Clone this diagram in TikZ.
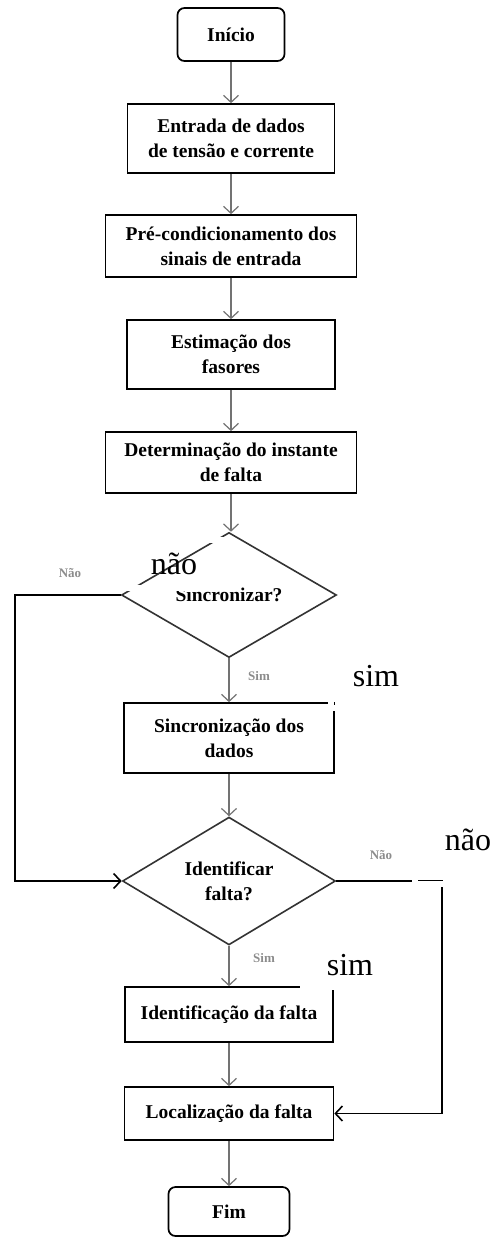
\documentclass[tikz,border=0pt]{standalone}
\usepackage{fontspec}
\setmainfont{Liberation Serif}
\usepackage{tikz}
\usetikzlibrary{positioning,shapes.geometric,arrows.meta}

\begin{document}
\begin{tikzpicture}[x=1pt, y=-1pt,
                % Estilos das caixas
                procbox/.style={rectangle, draw=black, line width=1.7pt, fill=white, align=center, font=\bfseries\fontsize{19.5}{25}\selectfont, inner sep=2pt},
                termbox/.style={procbox, rounded corners=7pt},
                decision/.style={diamond, draw=black!80, line width=1.6pt, fill=white, align=center, font=\bfseries\fontsize{19.5}{25}\selectfont, inner sep=0pt, minimum width=215pt, minimum height=125pt},
                % Estilos das ligacoes
                flowline/.style={draw=black!55, line width=1.2pt, -{Straight Barb[length=7pt, width=15pt]}},
                loopline/.style={draw=black, line width=1.6pt},
                % Estilos dos rotulos
                smalltag/.style={text=black!45, font=\bfseries\fontsize{13}{13}\selectfont, inner sep=0pt},
                bigtag/.style={draw=white, line width=6pt, font=\fontsize{32}{32}\selectfont, inner sep=0pt}
            ]
                \useasboundingbox (0,0) rectangle (492,1238);

                % --- CAIXAS ---
                \node[termbox, minimum width=107pt, minimum height=53pt] (inicio) at (231, 34.5) {Início};
                \node[procbox, minimum width=207pt, minimum height=69pt] (entrada) at (231, 138.5) {Entrada de dados\\de tensão e corrente};
                \node[procbox, minimum width=251pt, minimum height=62pt] (precond) at (231, 246) {Pré-condicionamento dos\\sinais de entrada};
                \node[procbox, minimum width=208pt, minimum height=69pt] (estimacao) at (231, 354.5) {Estimação dos\\fasores};
                \node[procbox, minimum width=251pt, minimum height=61pt] (instante) at (231, 462.5) {Determinação do instante\\de falta};

                \node[decision] (sincq) at (229, 595) {Sincronizar?};
                \node[procbox, minimum width=210pt, minimum height=70pt] (sincdados) at (229, 738) {Sincronização dos\\dados};
                \node[decision, minimum width=213pt, minimum height=126pt] (identq) at (229, 881) {Identificar\\falta?};

                \node[procbox, minimum width=208pt, minimum height=55pt] (identfalta) at (229, 1014.5) {Identificação da falta};
                \node[procbox, minimum width=209pt, minimum height=53pt] (localiza) at (229, 1113.5) {Localização da falta};
                \node[termbox, minimum width=121pt, minimum height=49pt] (fim) at (229, 1211.5) {Fim};

                \coordinate (loopL) at (15, 595);
                \coordinate (loopR) at (442, 881);

                % --- LIGACOES ---
                \draw[flowline] (inicio) -- (entrada);
                \draw[flowline] (entrada) -- (precond);
                \draw[flowline] (precond) -- (estimacao);
                \draw[flowline] (estimacao) -- (instante);
                \draw[flowline] (instante.south) -- (instante.south |- sincq.north);
                \draw[flowline] (sincq) -- (sincdados);
                \draw[flowline] (sincdados) -- (identq);
                \draw[flowline] (identq) -- (identfalta);
                \draw[flowline] (identfalta) -- (localiza);
                \draw[flowline] (localiza) -- (fim);

                % Desvios (nao)
                \draw[loopline, -{Straight Barb[length=7pt, width=15pt]}] (sincq.west) -- (loopL) |- (identq.west);
                \draw[loopline, -{Straight Barb[length=7pt, width=15pt]}] (identq.east) -- (loopR) |- (localiza.east);

                % --- ROTULOS ---
                \node[smalltag] (nao1s) at (70, 573) {Não};
                \node[smalltag] (sim1s) at (259, 676) {Sim};
                \node[smalltag] (nao2s) at (381, 855) {Não};
                \node[smalltag] (sim2s) at (264, 958) {Sim};

                \node[bigtag, minimum width=100pt, minimum height=48pt] (nao1) at (174, 564) {não};
                \node[bigtag, minimum width=90pt, minimum height=64pt] (sim1) at (376, 676) {sim};
                \node[bigtag, minimum width=106pt, minimum height=88pt] (nao2) at (468, 840) {não};
                \node[bigtag, minimum width=94pt, minimum height=44pt] (sim2) at (350, 965) {sim};

            \end{tikzpicture}
\end{document}
